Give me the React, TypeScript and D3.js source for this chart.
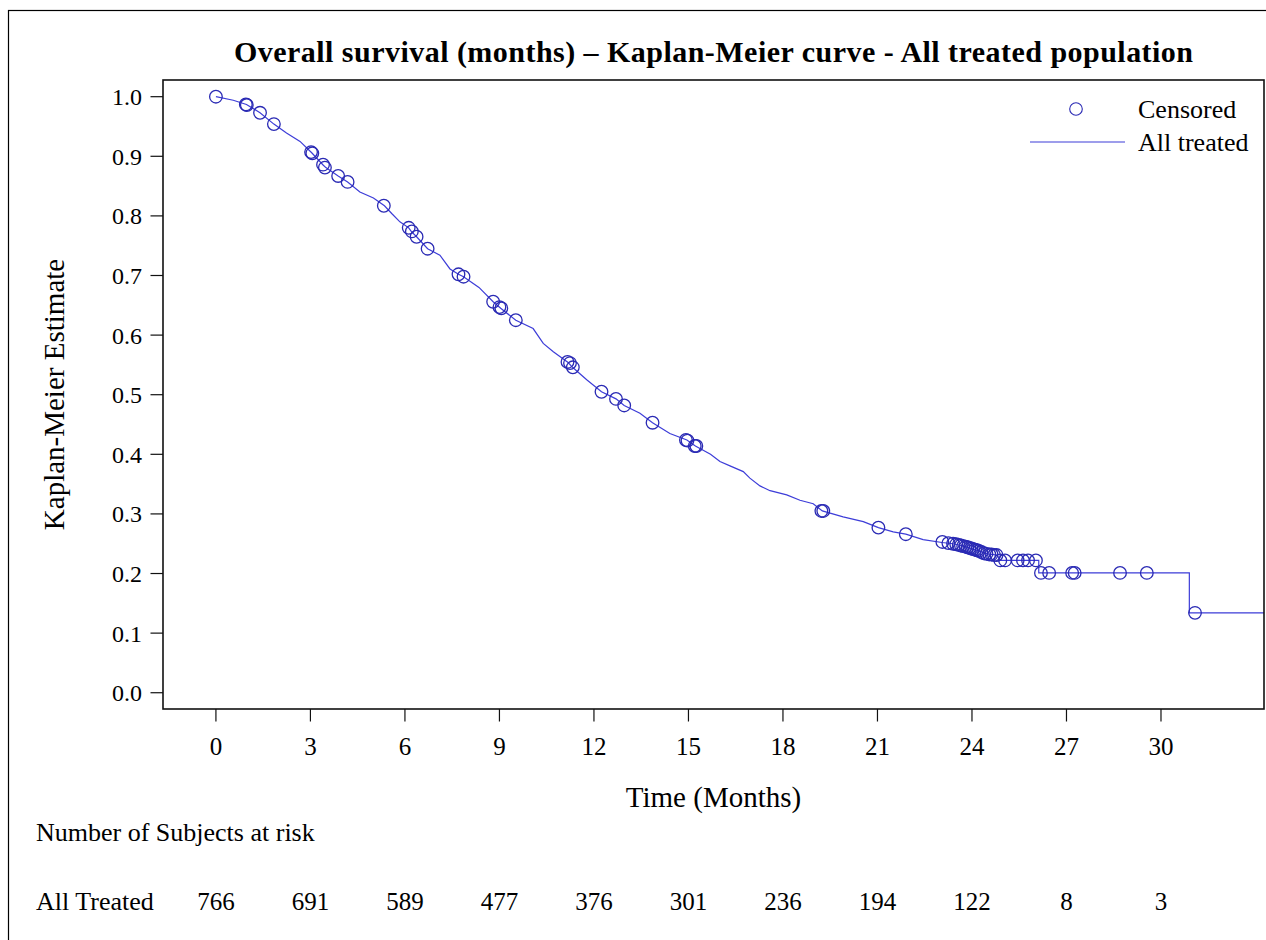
import React from "react";
import * as d3 from "d3";

// ---- Data ----
const kmTimes = [
  0, 0.55, 0.97, 1.4, 1.84, 2.24, 2.67, 3.04, 3.41, 3.49, 3.88, 4.18, 4.57, 5.0, 5.35, 5.58, 5.84,
  6.12, 6.2, 6.37, 6.72, 7.11, 7.43, 7.7, 7.86, 8.35, 8.8, 9.04, 9.52, 10.07, 10.39, 10.71, 11.18,
  11.32, 11.77, 12.24, 12.7, 12.96, 13.46, 13.86, 14.41, 14.95, 15.22, 15.7, 16.0, 16.3, 16.74,
  16.95, 17.27, 17.59, 18.12, 18.54, 18.96, 19.25, 19.91, 20.55, 21.03, 21.5, 21.9, 22.45, 23.05,
  23.4, 23.8, 24.2, 24.5, 24.8, 24.9, 26.12, 26.12, 30.9, 30.9, 33.3,
];
const kmSurv = [
  1.0, 0.994, 0.987, 0.973, 0.954, 0.939, 0.925, 0.906, 0.885, 0.881, 0.867, 0.857, 0.84, 0.83, 0.817, 0.804, 0.79,
  0.78, 0.774, 0.765, 0.745, 0.734, 0.711, 0.702, 0.698, 0.68, 0.656, 0.645, 0.625, 0.611, 0.586, 0.572, 0.554,
  0.546, 0.525, 0.505, 0.493, 0.482, 0.469, 0.453, 0.435, 0.424, 0.414, 0.4, 0.388, 0.381, 0.371,
  0.36, 0.347, 0.339, 0.332, 0.323, 0.317, 0.305, 0.295, 0.287, 0.277, 0.27, 0.266, 0.257, 0.252,
  0.25, 0.245, 0.238, 0.233, 0.231, 0.222, 0.222, 0.201, 0.201, 0.134, 0.134,
];
const censorTimes = [
  0, 0.95, 0.98, 1.4, 1.84, 3.02, 3.06, 3.4, 3.46, 3.88, 4.18, 5.33, 6.12, 6.22, 6.37, 6.72, 7.7, 7.86,
  8.8, 9.0, 9.06, 9.52, 11.16, 11.24, 11.33, 12.24, 12.7, 12.96, 13.86, 14.92, 14.97, 15.2, 15.25,
  19.22, 19.28, 21.03, 21.9, 23.06, 23.25, 23.4, 23.5, 23.58, 23.65, 23.72, 23.8, 23.86, 23.92, 23.98,
  24.04, 24.1, 24.16, 24.22, 24.3, 24.38, 24.46, 24.55, 24.62, 24.7, 24.78, 24.9, 25.05, 25.45, 25.62,
  25.78, 26.03, 26.19, 26.45, 27.18, 27.26, 28.7, 29.55, 31.08,
];
const censorSurv = [
  1.0, 0.987, 0.986, 0.973, 0.954, 0.907, 0.905, 0.886, 0.881, 0.867, 0.857, 0.817, 0.78, 0.774, 0.765, 0.745, 0.702, 0.698,
  0.656, 0.647, 0.645, 0.625, 0.555, 0.553, 0.546, 0.505, 0.493, 0.482, 0.453, 0.424, 0.423, 0.414, 0.414,
  0.305, 0.305, 0.277, 0.266, 0.253, 0.251, 0.25, 0.249, 0.248, 0.247, 0.246, 0.245, 0.244, 0.243, 0.242,
  0.241, 0.24, 0.239, 0.238, 0.236, 0.234, 0.233, 0.232, 0.232, 0.231, 0.231, 0.222, 0.222, 0.222, 0.222,
  0.222, 0.222, 0.201, 0.201, 0.201, 0.201, 0.201, 0.201, 0.134,
];
const xTicks = [0, 3, 6, 9, 12, 15, 18, 21, 24, 27, 30];
const yTicks = [0, 0.1, 0.2, 0.3, 0.4, 0.5, 0.6, 0.7, 0.8, 0.9, 1.0];
const riskCounts = [766, 691, 589, 477, 376, 301, 236, 194, 122, 8, 3];

const TITLE = "Overall survival (months) \u2013 Kaplan-Meier curve - All treated population";
const FONT = "'Liberation Serif', 'Times New Roman', serif";
const LINE = "#3d3dd8";
const MARK = "#2a2ab4";

export default function App() {
  const W = 1266, H = 940;
  const L = 163, R = 1264, T = 80, B = 709;
  const x = d3.scaleLinear().domain([-1.68, 33.27]).range([L, R]);
  const y = d3.scaleLinear().domain([-0.0273, 1.028]).range([B, T]);

  const pts: [number, number][] = kmTimes.map((t, i) => [t, kmSurv[i]]);
  const path = d3
    .line<[number, number]>()
    .x((d) => x(d[0]))
    .y((d) => y(d[1]))
    .curve(d3.curveLinear)(pts) as string;

  const fmt = d3.format(".1f");

  return (
    <svg
      width={W}
      height={H}
      style={{ position: "absolute", left: 0, top: 0, background: "#fff" }}
      fontFamily={FONT}
    >
      <rect x={0} y={0} width={W} height={H} fill="#fff" />
      {/* outer frame */}
      <rect x={8.5} y={10.5} width={1300} height={1000} fill="none" stroke="#000" strokeWidth={1.2} />

      {/* title */}
      <text x={(L + R) / 2} y={62} textAnchor="middle" fontSize={30} fontWeight="bold" textLength={959} lengthAdjust="spacing" fill="#000">
        {TITLE}
      </text>

      <defs>
        <clipPath id="plotclip">
          <rect x={L} y={T} width={R - L} height={B - T} />
        </clipPath>
      </defs>

      {/* curve */}
      <g clipPath="url(#plotclip)">
        <path d={path} fill="none" stroke={LINE} strokeWidth={1.2} />
        {censorTimes.map((t, i) => (
          <circle key={i} cx={x(t)} cy={y(censorSurv[i])} r={6.3} fill="none" stroke={MARK} strokeWidth={1.3} />
        ))}
      </g>

      {/* plot frame */}
      <rect x={L} y={T} width={R - L} height={B - T} fill="none" stroke="#111" strokeWidth={1.6} />

      {/* y axis */}
      {yTicks.map((v) => (
        <g key={v}>
          <line x1={L - 12.5} x2={L} y1={y(v)} y2={y(v)} stroke="#111" strokeWidth={1.2} />
          <text x={142} y={y(v) + 8.5} textAnchor="end" fontSize={24} fill="#000">
            {fmt(v)}
          </text>
        </g>
      ))}
      <text
        transform={`translate(64, ${(T + B) / 2}) rotate(-90)`}
        textAnchor="middle"
        fontSize={29}
        fill="#000"
      >
        Kaplan-Meier Estimate
      </text>

      {/* x axis */}
      {xTicks.map((v) => (
        <g key={v}>
          <line x1={x(v)} x2={x(v)} y1={B} y2={B + 12.5} stroke="#111" strokeWidth={1.2} />
          <text x={x(v)} y={755} textAnchor="middle" fontSize={25} fill="#000">
            {v}
          </text>
        </g>
      ))}
      <text x={(L + R) / 2} y={807} textAnchor="middle" fontSize={29} fill="#000">
        Time (Months)
      </text>

      {/* legend */}
      <circle cx={1076} cy={109} r={6.3} fill="none" stroke={MARK} strokeWidth={1.1} />
      <text x={1138} y={118} fontSize={26} fill="#000">Censored</text>
      <line x1={1030} x2={1125} y1={142} y2={142} stroke={LINE} strokeWidth={1.2} />
      <text x={1138} y={151} fontSize={26} fill="#000">All treated</text>

      {/* risk table */}
      <text x={36} y={841} fontSize={26} fill="#000">Number of Subjects at risk</text>
      <text x={36} y={910} fontSize={26} fill="#000">All Treated</text>
      {riskCounts.map((n, i) => (
        <text key={i} x={x(xTicks[i])} y={910} textAnchor="middle" fontSize={25} fill="#000">
          {n}
        </text>
      ))}
    </svg>
  );
}
